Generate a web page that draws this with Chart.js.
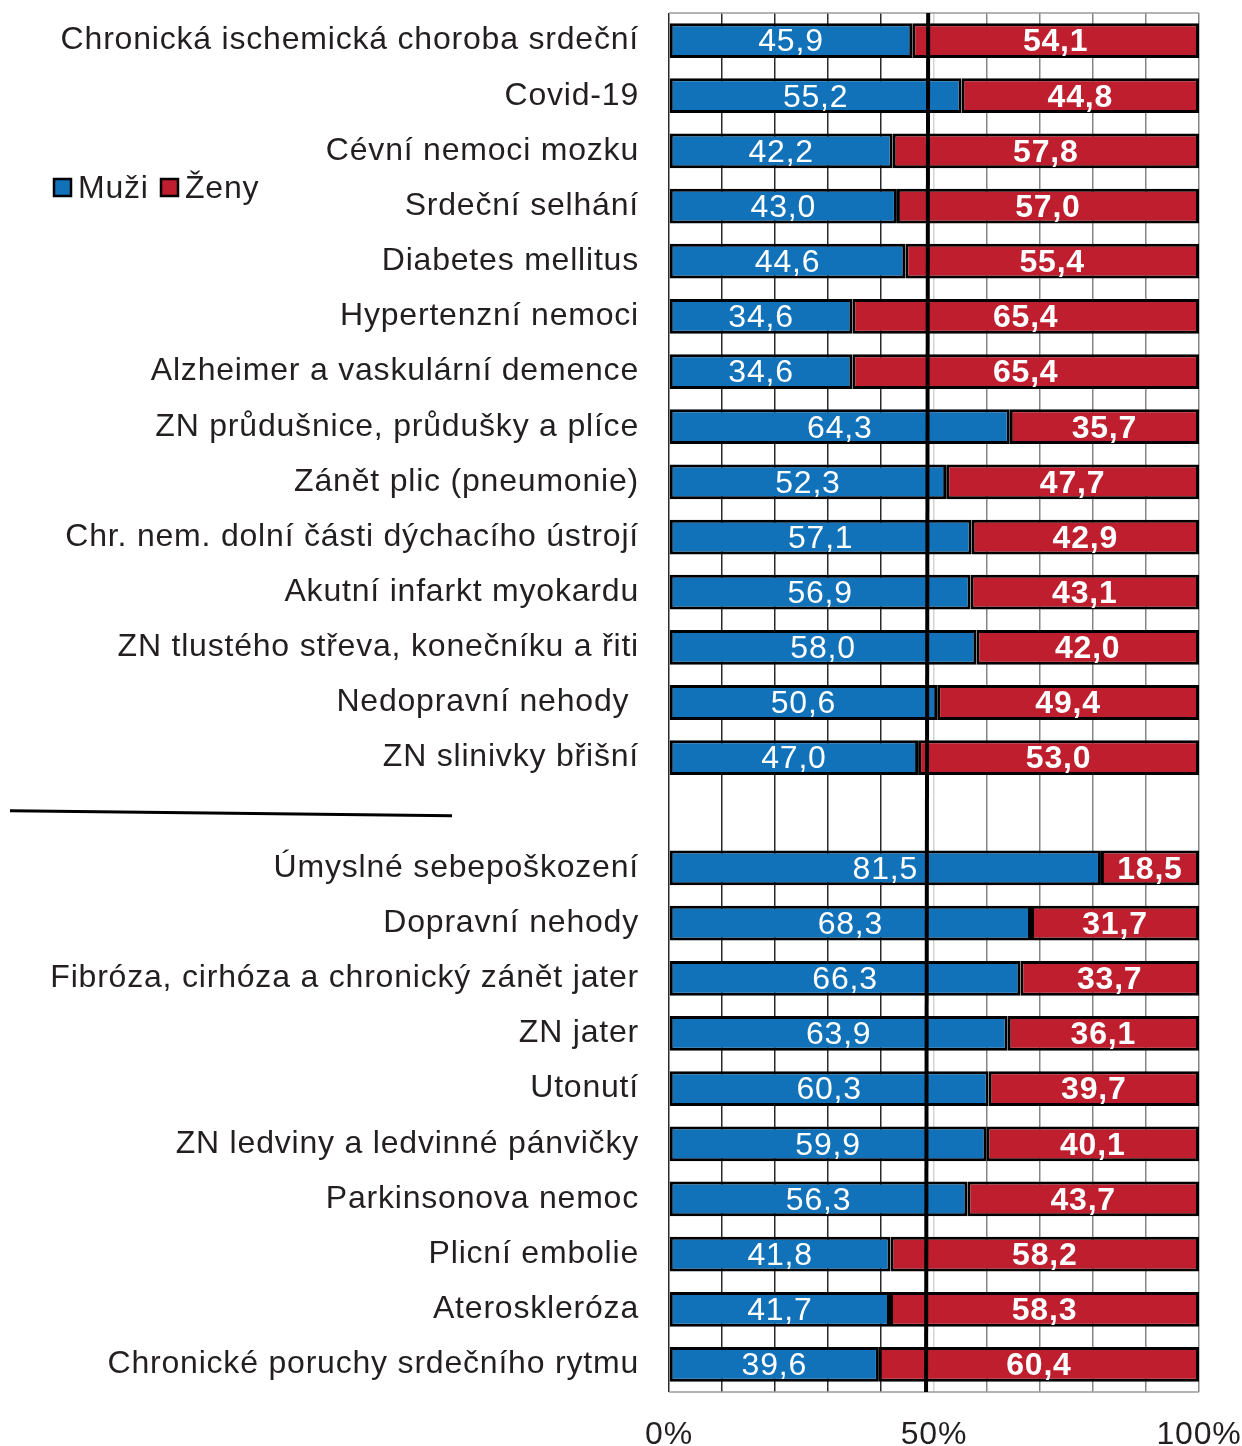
<!DOCTYPE html>
<html>
<head>
<meta charset="utf-8">
<script src="https://cdn.jsdelivr.net/npm/chart.js@4"></script>
<style>
  html, body { margin: 0; padding: 0; background: #fff; }
  canvas { display: block; }
</style>
</head>
<body>
<canvas id="chart" width="1242" height="1446"></canvas>
<script>
// categories, top group / empty row / bottom group
const categories = [
    'Chronická ischemická choroba srdeční',
    'Covid-19',
    'Cévní nemoci mozku',
    'Srdeční selhání',
    'Diabetes mellitus',
    'Hypertenzní nemoci',
    'Alzheimer a vaskulární demence',
    'ZN průdušnice, průdušky a plíce',
    'Zánět plic (pneumonie)',
    'Chr. nem. dolní části dýchacího ústrojí',
    'Akutní infarkt myokardu',
    'ZN tlustého střeva, konečníku a řiti',
    'Nedopravní nehody ',
    'ZN slinivky břišní',
    '',
    'Úmyslné sebepoškození',
    'Dopravní nehody',
    'Fibróza, cirhóza a chronický zánět jater',
    'ZN jater',
    'Utonutí',
    'ZN ledviny a ledvinné pánvičky',
    'Parkinsonova nemoc',
    'Plicní embolie',
    'Ateroskleróza',
    'Chronické poruchy srdečního rytmu'
];
const muzi = [45.9, 55.2, 42.2, 43.0, 44.6, 34.6, 34.6, 64.3, 52.3, 57.1, 56.9, 58.0, 50.6, 47.0, null,
              81.5, 68.3, 66.3, 63.9, 60.3, 59.9, 56.3, 41.8, 41.7, 39.6];
const zeny = [54.1, 44.8, 57.8, 57.0, 55.4, 65.4, 65.4, 35.7, 47.7, 42.9, 43.1, 42.0, 49.4, 53.0, null,
              18.5, 31.7, 33.7, 36.1, 39.7, 40.1, 43.7, 58.2, 58.3, 60.4];
const xTickLabels = [0, 50, 100];

const FONT = "'Liberation Sans', Arial, sans-serif";
const TEXT = '#231f20';
const BLUE = '#1172b9';
const RED = '#be1e2d';
const SPACING = '0.8px'; // the original lettering is a bit wider than Arial

const spacing = {
    id: 'spacing',
    beforeUpdate(chart) { chart.ctx.letterSpacing = SPACING; },
    beforeDraw(chart) { chart.ctx.letterSpacing = SPACING; }
};

// values drawn inside the bars, drawn lines and legend
const overlay = {
    id: 'overlay',
    afterDatasetsDraw(chart) {
        const ctx = chart.ctx;
        const area = chart.chartArea;
        const x = chart.scales.x;
        const y = chart.scales.y;
        ctx.save();

        // top / bottom frame line
        ctx.strokeStyle = '#9a9a9a';
        ctx.lineWidth = 1.5;
        ctx.beginPath();
        ctx.moveTo(area.left, area.top);
        ctx.lineTo(area.right, area.top);
        ctx.moveTo(area.left, area.bottom);
        ctx.lineTo(area.right, area.bottom);
        ctx.stroke();

        // labels inside bars
        ctx.fillStyle = '#fff';
        ctx.textAlign = 'center';
        ctx.textBaseline = 'middle';
        chart.data.datasets.forEach((ds, di) => {
            ctx.font = (di === 1 ? 'bold ' : '') + '32px ' + FONT;
            chart.getDatasetMeta(di).data.forEach((bar, i) => {
                const v = ds.data[i];
                if (v == null) return;
                const p = bar.getProps(['x', 'y', 'base'], true);
                ctx.fillText(v.toFixed(1).replace('.', ','), (p.x + p.base) / 2, p.y + 2);
            });
        });

        // thick black line near the middle
        ctx.strokeStyle = '#000';
        ctx.lineWidth = 4;
        ctx.beginPath();
        ctx.moveTo(x.getPixelForValue(48.9), area.top);
        ctx.lineTo(x.getPixelForValue(48.5), area.bottom);
        ctx.stroke();

        // separator in the label column
        const gy = y.getPixelForValue(14);
        ctx.lineWidth = 3;
        ctx.beginPath();
        ctx.moveTo(10, gy - 2);
        ctx.lineTo(452, gy + 3);
        ctx.stroke();

        // legend
        ctx.font = '32px ' + FONT;
        ctx.textAlign = 'left';
        ctx.textBaseline = 'middle';
        const ly = 188;
        [['Muži', BLUE, 54], ['Ženy', RED, 161]].forEach(([name, col, lx]) => {
            ctx.fillStyle = col;
            ctx.fillRect(lx, ly - 9, 17, 17);
            ctx.strokeStyle = '#000';
            ctx.lineWidth = 2.5;
            ctx.strokeRect(lx, ly - 9, 17, 17);
            ctx.fillStyle = TEXT;
            ctx.fillText(name, lx + 24, ly + 1);
        });
        ctx.restore();
    }
};

new Chart(document.getElementById('chart'), {
    type: 'bar',
    data: {
        labels: categories,
        datasets: [
            {
                label: 'Muži',
                data: muzi,
                backgroundColor: BLUE,
                borderColor: '#000',
                borderWidth: 3,
                borderSkipped: false,
                barPercentage: 0.63,
                categoryPercentage: 1
            },
            {
                label: 'Ženy',
                data: zeny,
                backgroundColor: RED,
                borderColor: '#000',
                borderWidth: 3,
                borderSkipped: false,
                barPercentage: 0.63,
                categoryPercentage: 1
            }
        ]
    },
    options: {
        indexAxis: 'y',
        responsive: false,
        animation: false,
        layout: { padding: { top: 13, right: 43, left: 0, bottom: 0 } },
        plugins: {
            legend: { display: false },
            tooltip: { enabled: false }
        },
        scales: {
            x: {
                stacked: true,
                min: 0,
                max: 100,
                afterFit: s => {
                    s.height = 54;
                    s.paddingLeft = 0;
                    s.paddingRight = 0;
                },
                ticks: {
                    stepSize: 10,
                    autoSkip: false,
                    maxRotation: 0,
                    padding: 24,
                    color: TEXT,
                    font: { family: FONT, size: 32 },
                    callback: v => xTickLabels.includes(v) ? v + '%' : ''
                },
                grid: {
                    drawTicks: false,
                    lineWidth: 1.5,
                    color: c => c.tick.value < 50 ? '#2a2a2a' : (c.tick.value === 50 ? '#d4d4d4' : '#858585')
                },
                border: { display: false }
            },
            y: {
                stacked: true,
                afterFit: s => {
                    s.width = 669;
                    s.paddingTop = 0;
                    s.paddingBottom = 0;
                },
                grid: { display: false },
                border: { display: false },
                ticks: {
                    autoSkip: false,
                    padding: 22,
                    color: TEXT,
                    font: { family: FONT, size: 32 }
                }
            }
        }
    },
    plugins: [spacing, overlay]
});
</script>
</body>
</html>
